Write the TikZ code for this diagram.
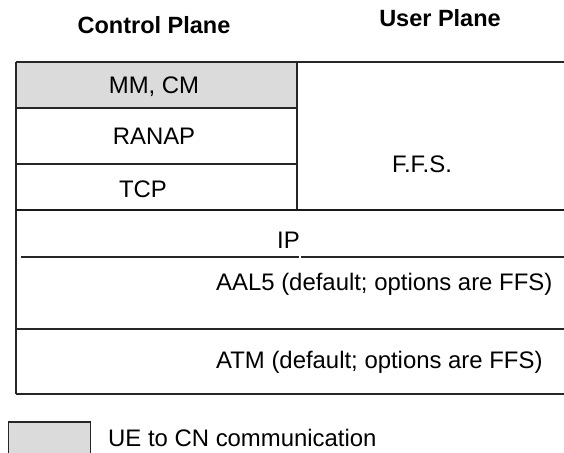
\documentclass[tikz,border=0pt]{standalone}
\usepackage{fontspec}
\setmainfont{Liberation Sans}
\begin{document}
\begin{tikzpicture}[x=1pt,y=-1pt,
  lbl/.style={anchor=base,inner sep=0pt,font=\fontsize{23.9}{28}\selectfont},
  ttl/.style={lbl,font=\fontsize{23.5}{28}\selectfont\bfseries},
  rule/.style={line width=1.3pt,draw=black!85},
  thickrule/.style={line width=2.1pt,draw=black!90},
  shade/.style={fill=black!14}]
\useasboundingbox (0,0) rectangle (564,452);
% cells
\fill[shade] (16,62) rectangle (297,108);
\draw[rule,shade] (8.5,422) rectangle (90.5,462);
% frame lines
\coordinate (tl) at (16,62);
\coordinate (tr) at (564,62);
\coordinate (bl) at (16,394);
\coordinate (br) at (564,394);
\draw[rule] (tl) -- (tr);
\draw[rule] (tl) -- (bl);
\draw[rule] (bl) -- (br);
\draw[rule] (16,108) -- (297,108);
\draw[rule] (16,164) -- (297,164);
\draw[rule] (297,62) -- (297,210);
\draw[thickrule] (16,210) -- (564,210);
\draw[rule] (21,257) -- (298.5,257);
\draw[rule] (301,257) -- (564,257);
\draw[rule] (16,329) -- (564,329);
% texts
\node[ttl] (cp) at (154,33.4) {Control Plane};
\node[ttl] (up) at (440,26.4) {User Plane};
\node[lbl] (mm) at (154,93.4) {MM, CM};
\node[lbl] (ranap) at (154,144.4) {RANAP};
\node[lbl] (tcp) at (143,197.4) {TCP};
\node[lbl] (ffs) at (422,172.4) {F.F.S.};
\node[lbl] (ip) at (288.5,248) {IP};
\node[lbl,anchor=base west] (aal) at (216,290.7) {AAL5 (default; options are FFS)};
\node[lbl,anchor=base west] (atm) at (216,368.3) {ATM (default; options are FFS)};
\node[lbl,anchor=base west] (leg) at (108,446) {UE to CN communication};
\end{tikzpicture}
\end{document}
